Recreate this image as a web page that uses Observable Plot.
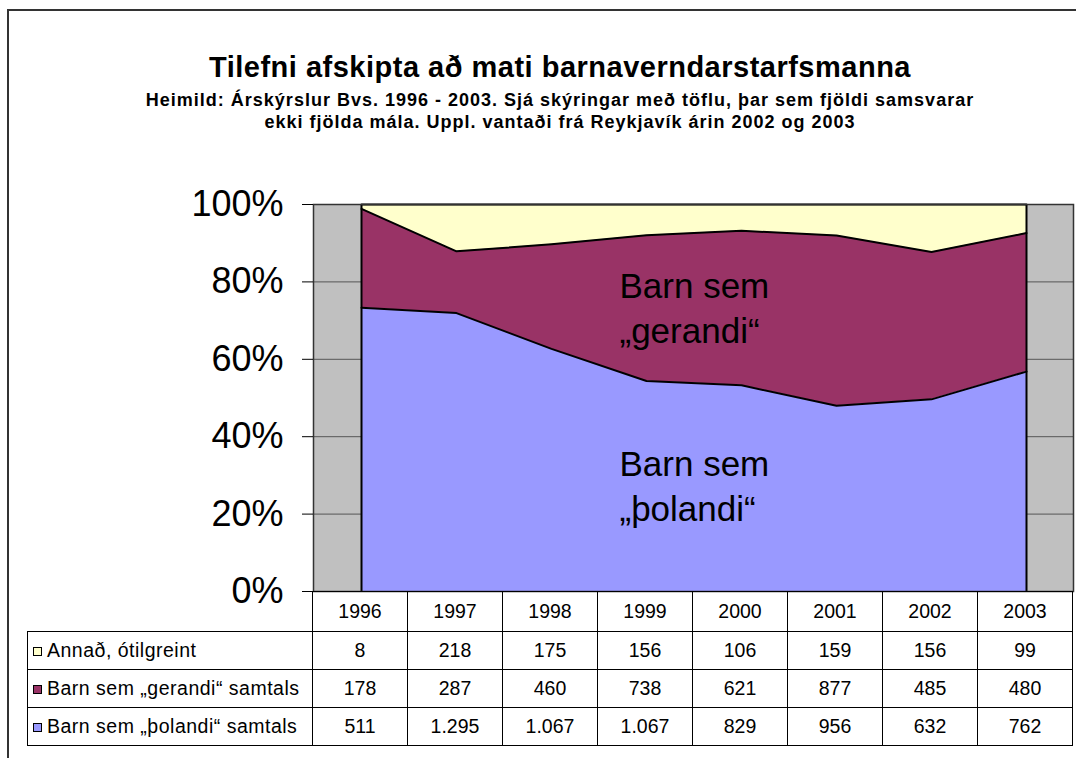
<!DOCTYPE html>
<html>
<head>
<meta charset="utf-8">
<script src="https://cdn.jsdelivr.net/npm/d3@7"></script>
<script src="https://cdn.jsdelivr.net/npm/@observablehq/plot@0.6"></script>
<style>
  html, body { margin: 0; padding: 0; background: #fff; }
  body { width: 1076px; height: 758px; overflow: hidden; position: relative; font-family: "Liberation Sans", Arial, sans-serif; }
  #frame { position: absolute; left: 7px; top: 9px; width: 1200px; height: 900px; border-top: 2px solid #333; border-left: 2px solid #333; }
  #title { position: absolute; left: 60px; width: 1000px; top: 51px; text-align: center; font-weight: bold; font-size: 29px; line-height: 32px; letter-spacing: 0.5px; color: #000; }
  #subtitle { position: absolute; left: 40px; width: 1040px; top: 89px; text-align: center; font-weight: bold; font-size: 18px; line-height: 22px; letter-spacing: 1px; color: #000; }
  #chart { position: absolute; left: 0; top: 150px; }
  #tbl { position: absolute; left: 27px; top: 591px; border-collapse: collapse; font-size: 19.5px; color: #000; }
  #tbl td { border: 1px solid #000; padding: 0; text-align: center; width: 94px; }
  #tbl td.lab { width: 285px; text-align: left; padding-left: 5px; box-sizing: border-box; white-space: nowrap; letter-spacing: 0.5px; }
  #tbl td.blank { border: none; }
  #tbl tr.head td { height: 39px; }
  #tbl tr.row td { height: 37px; }
  .sw { display: inline-block; width: 7px; height: 7px; border: 1px solid #000; margin-right: 5px; vertical-align: 1px; }
</style>
</head>
<body>
<div id="frame"></div>
<div id="title"></div>
<div id="subtitle"></div>
<div id="chart"></div>
<table id="tbl"></table>
<script>
const titleText = "Tilefni afskipta að mati barnaverndarstarfsmanna";
const subtitleLines = ["Heimild: Árskýrslur Bvs. 1996 - 2003. Sjá skýringar með töflu, þar sem fjöldi samsvarar", "ekki fjölda mála. Uppl. vantaði frá Reykjavík árin 2002 og 2003"];

const years = ["1996", "1997", "1998", "1999", "2000", "2001", "2002", "2003"];
const annad   = [8, 218, 175, 156, 106, 159, 156, 99];
const gerandi = [178, 287, 460, 738, 621, 877, 485, 480];
const polandi = [511, 1295, 1067, 1067, 829, 956, 632, 762];

const seriesNames = ["Barn sem „þolandi“ samtals", "Barn sem „gerandi“ samtals", "Annað, ótilgreint"];
const seriesColors = ["#9999ff", "#993366", "#ffffcc"];
const areaLabels = ["Barn sem\n„gerandi“", "Barn sem\n„þolandi“"];
const yTicks = [0, 0.2, 0.4, 0.6, 0.8, 1];

// long-format table, bottom series first in each year
const seriesValues = [polandi, gerandi, annad];
const data = [];
years.forEach((yr, i) => {
  seriesValues.forEach((vals, s) => data.push({year: yr, series: seriesNames[s], value: vals[i]}));
});

document.getElementById("title").textContent = titleText;
document.getElementById("subtitle").innerHTML = subtitleLines.map(s => s.replace(/&/g, "&amp;")).join("<br>");

const stackOpts = {x: "year", y: "value", z: "series", offset: "normalize"};

const chart = Plot.plot({
  width: 1076,
  height: 480,
  marginTop: 54,
  marginBottom: 39,
  marginLeft: 313,
  marginRight: 3,
  style: {fontFamily: "'Liberation Sans', Arial, sans-serif", background: "transparent"},
  x: {type: "point", domain: years, padding: 0.5, axis: null},
  y: {domain: [0, 1], axis: null},
  color: {domain: seriesNames, range: seriesColors},
  marks: [
    Plot.frame({fill: "#c0c0c0"}),
    Plot.ruleY(yTicks.slice(1, -1), {stroke: "#555", strokeWidth: 1}),
    Plot.areaY(data, Plot.stackY({...stackOpts, fill: "series"})),
    Plot.lineY(data, Plot.stackY2({...stackOpts, stroke: "#000", strokeWidth: 2})),
    Plot.ruleX([years[0], years[years.length - 1]], {y1: 0, y2: 1, stroke: "#000", strokeWidth: 2}),
    Plot.frame({stroke: "#333", strokeWidth: 1.5}),
    Plot.axisY(yTicks, {tickFormat: d3.format(".0%"), tickSize: 11, tickPadding: 19, fontSize: 36, stroke: "#000", fill: "#000", label: null}),
    Plot.text([areaLabels[0]], {x: () => years[3], y: () => 0.643, text: d => d, dx: -27, textAnchor: "start", lineAnchor: "bottom", lineHeight: 1.29, fontSize: 35, fill: "#000"}),
    Plot.text([areaLabels[1]], {x: () => years[3], y: () => 0.183, text: d => d, dx: -27, textAnchor: "start", lineAnchor: "bottom", lineHeight: 1.29, fontSize: 35, fill: "#000"})
  ]
});
document.getElementById("chart").appendChild(chart);

// data table
const fmt = d3.formatLocale({decimal: ",", thousands: ".", grouping: [3]}).format(",");
const tbl = document.getElementById("tbl");
let html = '<tr class="head"><td class="lab blank"></td>' + years.map(y => `<td>${y}</td>`).join("") + "</tr>";
[2, 1, 0].forEach(s => {
  html += `<tr class="row"><td class="lab"><span class="sw" style="background:${seriesColors[s]}"></span>${seriesNames[s]}</td>` +
    seriesValues[s].map(v => `<td>${fmt(v)}</td>`).join("") + "</tr>";
});
tbl.innerHTML = html;
</script>
</body>
</html>
